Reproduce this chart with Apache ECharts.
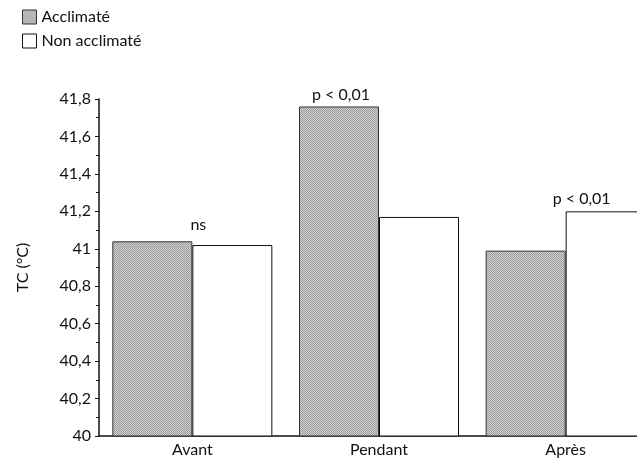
<!DOCTYPE html>
<html>
<head>
<meta charset="UTF-8">
<title>TC</title>
<script src="https://cdn.jsdelivr.net/npm/echarts@6/dist/echarts.min.js"></script>
<style>
*{margin:0;padding:0}
body{background:#fff}
#chart{width:637px;height:461px}
</style>
</head>
<body>
<div id="chart"></div>
<script>
var categories = ['Avant', 'Pendant', 'Après'];
var acclimate = [41.04, 41.76, 40.99];
var nonAcclimate = [41.02, 41.17, 41.2];
// annotations: index -> text
var accNotes = {0: 'ns', 1: 'p < 0,01'};
var nonNotes = {2: 'p < 0,01'};

// grey dotted fill like the print screen
var cv = document.createElement('canvas');
cv.width = 2; cv.height = 2;
var cx = cv.getContext('2d');
cx.fillStyle = '#d2d2d2';
cx.fillRect(0, 0, 2, 2);
cx.fillStyle = '#9a9a9a';
cx.fillRect(0, 0, 1, 1);
cx.fillRect(1, 1, 1, 1);

var font = 'Lato';
var fs = 16;

function accData() {
    return acclimate.map(function (v, i) {
        var d = {value: v};
        if (accNotes[i] === 'ns') {
            // sits between the two Avant bars
            d.label = {show: true, formatter: 'ns', position: 'top', offset: [46, -3]};
        } else if (accNotes[i]) {
            d.label = {show: true, formatter: accNotes[i], position: 'top', offset: [2, 1]};
        }
        return d;
    });
}
function nonData() {
    return nonAcclimate.map(function (v, i) {
        var d = {value: v};
        if (nonNotes[i]) d.label = {show: true, formatter: nonNotes[i], position: 'top', offset: [-24, 1]};
        return d;
    });
}

var chart = echarts.init(document.getElementById('chart'));
chart.setOption({
    animation: false,
    textStyle: {fontFamily: font},
    legend: {
        orient: 'vertical',
        left: 17,
        top: 4,
        icon: 'rect',
        itemWidth: 14,
        itemHeight: 14,
        itemGap: 8,
        textStyle: {fontSize: fs, color: '#111', fontFamily: font},
        data: [
            {name: 'Acclimaté', itemStyle: {color: {image: cv, repeat: 'repeat'}, borderColor: '#333', borderWidth: 1}},
            {name: 'Non acclimaté', itemStyle: {color: '#fff', borderColor: '#111', borderWidth: 1}}
        ]
    },
    grid: {left: 99, top: 99, width: 560, bottom: 25, containLabel: false, outerBoundsMode: 'none'},
    xAxis: {
        type: 'category',
        data: categories,
        axisLine: {lineStyle: {color: '#111', width: 1.5}},
        axisTick: {show: false},
        axisLabel: {color: '#111', fontSize: fs, margin: 6, fontFamily: font}
    },
    yAxis: {
        type: 'value',
        min: 40,
        max: 41.8,
        interval: 0.2,
        name: 'TC (°C)',
        nameLocation: 'middle',
        nameGap: 68,
        nameTextStyle: {fontSize: fs, color: '#111', fontFamily: font},
        axisLine: {show: true, lineStyle: {color: '#111', width: 1.5}},
        axisTick: {show: true, length: 4, lineStyle: {color: '#111'}},
        minorTick: {show: true, splitNumber: 2, length: 3, lineStyle: {color: '#111'}},
        splitLine: {show: false},
        axisLabel: {
            color: '#111', fontSize: fs, margin: 8, fontFamily: font,
            formatter: function (v) { return String(Math.round(v * 10) / 10).replace('.', ','); }
        }
    },
    series: [
        {
            name: 'Acclimaté',
            type: 'bar',
            barWidth: 80,
            barGap: '0%',
            data: accData(),
            itemStyle: {color: {image: cv, repeat: 'repeat'}, borderColor: '#333', borderWidth: 1},
            label: {color: '#111', fontSize: fs, fontFamily: font}
        },
        {
            name: 'Non acclimaté',
            type: 'bar',
            barWidth: 80,
            data: nonData(),
            itemStyle: {color: '#fff', borderColor: '#111', borderWidth: 1},
            label: {color: '#111', fontSize: fs, fontFamily: font}
        }
    ]
});
</script>
</body>
</html>
